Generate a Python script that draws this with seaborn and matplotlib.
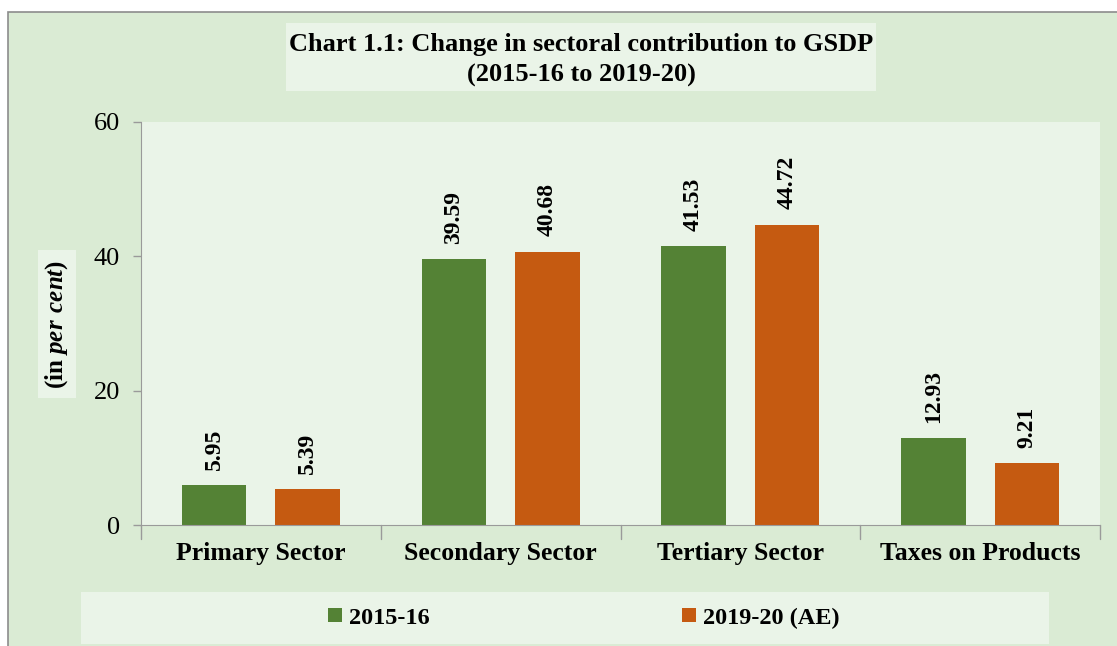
import pandas as pd
import seaborn as sns
import matplotlib.pyplot as plt
from matplotlib.patches import Rectangle

# ---------------------------------------------------------------------
# Data
# ---------------------------------------------------------------------
sectors = ["Primary Sector", "Secondary Sector", "Tertiary Sector", "Taxes on Products"]
years = ["2015-16", "2019-20 (AE)"]
share_2015 = [5.95, 39.59, 41.53, 12.93]
share_2019 = [5.39, 40.68, 44.72, 9.21]

df = pd.DataFrame({
    "sector": sectors * 2,
    "year": [years[0]] * len(sectors) + [years[1]] * len(sectors),
    "share": share_2015 + share_2019,
})

# ---------------------------------------------------------------------
# Style
# ---------------------------------------------------------------------
OUTER_BG = "#DAEBD4"
INNER_BG = "#EAF4E8"
GREEN = "#548235"
ORANGE = "#C55A11"
GREY = "#9A9A9A"

sns.set_style("white", {"axes.facecolor": INNER_BG})
plt.rcParams["font.family"] = ["Liberation Serif", "DejaVu Serif"]
plt.rcParams["text.color"] = "black"
plt.rcParams["xtick.color"] = "black"
plt.rcParams["ytick.color"] = "black"
plt.rcParams["mathtext.fontset"] = "custom"
plt.rcParams["mathtext.bfit"] = "Liberation Serif:italic:bold"
plt.rcParams["mathtext.rm"] = "Liberation Serif:bold"

W, H = 1117, 646
fig = plt.figure(figsize=(W / 100, H / 100), dpi=100, facecolor="white")

def fx(px):
    return px / W

def fy(py):
    return 1 - py / H

# outer chart area with grey border
fig.patches.append(Rectangle((fx(8), fy(660)), fx(1130) - fx(8), fy(12) - fy(660),
                             transform=fig.transFigure, facecolor=OUTER_BG,
                             edgecolor="#8C8C8C", linewidth=1.2, zorder=-2))
# title box
fig.patches.append(Rectangle((fx(286), fy(91)), fx(876) - fx(286), fy(23) - fy(91),
                             transform=fig.transFigure, facecolor=INNER_BG,
                             edgecolor="none", zorder=-1))
# legend box
fig.patches.append(Rectangle((fx(81), fy(644)), fx(1049) - fx(81), fy(592) - fy(644),
                             transform=fig.transFigure, facecolor=INNER_BG,
                             edgecolor="none", zorder=-1))
# y label box
fig.patches.append(Rectangle((fx(38), fy(398)), fx(76) - fx(38), fy(250) - fy(398),
                             transform=fig.transFigure, facecolor=INNER_BG,
                             edgecolor="none", zorder=-1))

ax = fig.add_axes([fx(141), fy(525), fx(1100) - fx(141), fy(122) - fy(525)])
ax.set_zorder(2)

sns.barplot(data=df, x="sector", y="share", hue="year", ax=ax,
            palette=[GREEN, ORANGE], width=0.78, gap=0.31, legend=True,
            saturation=1, linewidth=0)

ax.set_ylim(0, 60)
ax.set_yticks([0, 20, 40, 60])
ax.set_xlim(-0.5, len(sectors) - 0.5)
ax.tick_params(axis="y", labelsize=19, length=6, color=GREY, width=1, pad=9, left=True)
ax.tick_params(axis="x", labelsize=18.5, length=0, pad=12)
for lbl in ax.get_xticklabels():
    lbl.set_fontweight("bold")

# x-axis divider ticks between categories
for xb in [i - 0.5 for i in range(len(sectors) + 1)]:
    ax.plot([xb, xb], [0, -0.035], transform=ax.get_xaxis_transform(),
            color=GREY, lw=1, clip_on=False)

for side in ["top", "right"]:
    ax.spines[side].set_visible(False)
ax.spines["left"].set_color(GREY)
ax.spines["bottom"].set_color(GREY)
ax.set_xlabel("")
ax.set_ylabel("")

# data labels
for cont in ax.containers:
    ax.bar_label(cont, fmt="%.2f", rotation=90, padding=11,
                 fontsize=17, fontweight="bold")

# title
fig.text(fx(581), fy(60), "Chart 1.1: Change in sectoral contribution to GSDP\n(2015-16 to 2019-20)",
         ha="center", va="center", fontsize=19, fontweight="bold", linespacing=1.45, zorder=3)

# y label
fig.text(fx(57), fy(324), r"(in $\mathbfit{per\ cent}$)", rotation=90,
         ha="center", va="center", fontsize=18, fontweight="bold", zorder=3)

# legend
handles, labels = ax.get_legend_handles_labels()
ax.get_legend().remove()
leg = fig.legend(handles, labels, loc="center", bbox_to_anchor=(fx(584), fy(618)),
                 ncol=2, frameon=False, handlelength=0.55, handleheight=0.55,
                 handletextpad=0.3, columnspacing=10.4,
                 prop={"size": 17.5, "weight": "bold"})

fig.savefig("out.png", dpi=100, facecolor="white")
